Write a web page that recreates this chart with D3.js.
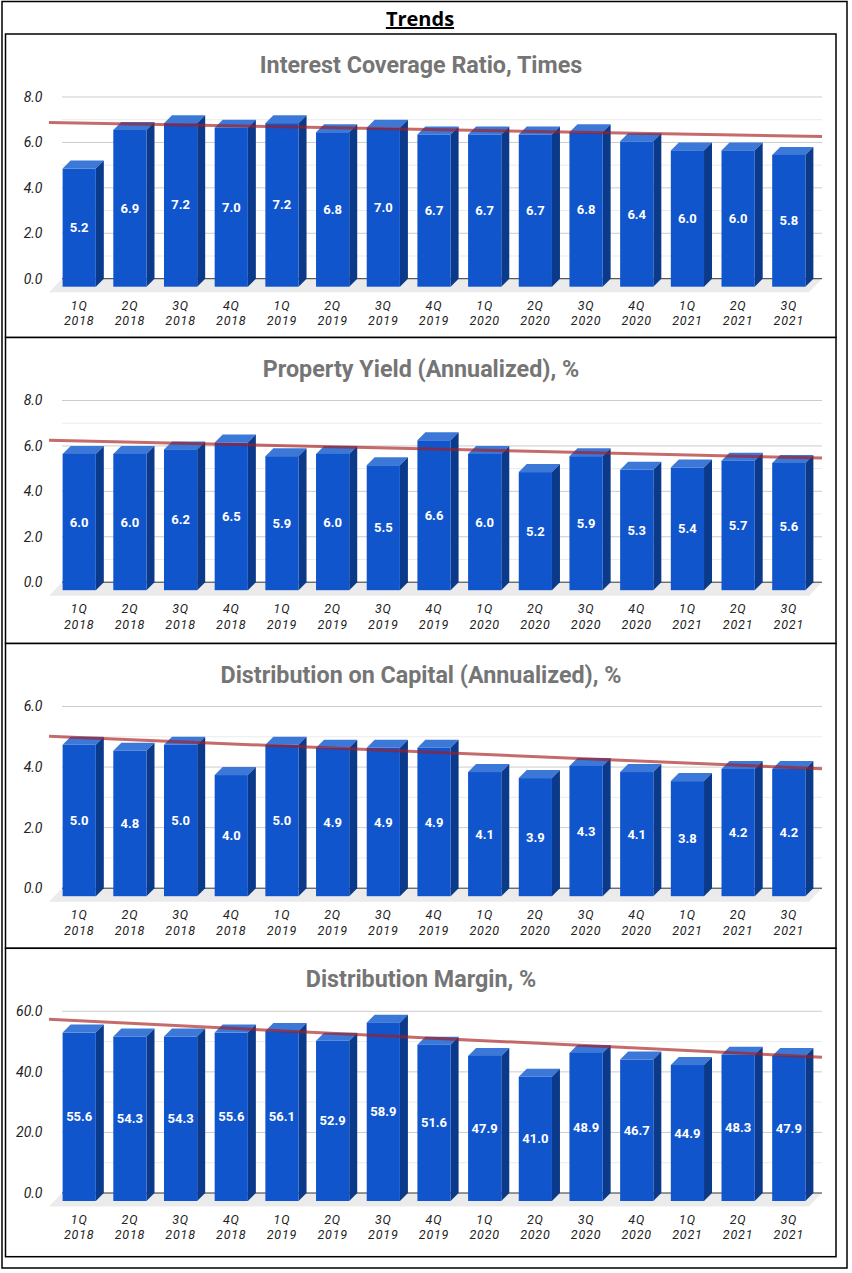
<!DOCTYPE html>
<html>
<head>
<meta charset="utf-8">
<script src="https://cdn.jsdelivr.net/npm/d3@7"></script>
<style>
  body { margin: 0; background: #fff; }
  svg { display: block; font-family: Roboto, "Noto Sans", sans-serif; }
</style>
</head>
<body>
<svg id="page" width="852" height="1273"></svg>
<script>
;(function() {
	"use strict";

	// quarters on the x axis, two lines each
	var quarters = ["1Q", "2Q", "3Q", "4Q", "1Q", "2Q", "3Q", "4Q", "1Q", "2Q", "3Q", "4Q", "1Q", "2Q", "3Q"],
		years = ["2018", "2018", "2018", "2018", "2019", "2019", "2019", "2019", "2020", "2020", "2020", "2020", "2021", "2021", "2021"];

	var interestCoverage = [5.2, 6.9, 7.2, 7.0, 7.2, 6.8, 7.0, 6.7, 6.7, 6.7, 6.8, 6.4, 6.0, 6.0, 5.8],
		propertyYield = [6.0, 6.0, 6.2, 6.5, 5.9, 6.0, 5.5, 6.6, 6.0, 5.2, 5.9, 5.3, 5.4, 5.7, 5.6],
		distributionOnCapital = [5.0, 4.8, 5.0, 4.0, 5.0, 4.9, 4.9, 4.9, 4.1, 3.9, 4.3, 4.1, 3.8, 4.2, 4.2],
		distributionMargin = [55.6, 54.3, 54.3, 55.6, 56.1, 52.9, 58.9, 51.6, 47.9, 41.0, 48.9, 46.7, 44.9, 48.3, 47.9];

	var titles = ["Interest Coverage Ratio, Times", "Property Yield (Annualized), %",
		"Distribution on Capital (Annualized), %", "Distribution Margin, %"];

	var ticks8 = [0, 2, 4, 6, 8],
		ticks6 = [0, 2, 4, 6],
		ticks60 = [0, 20, 40, 60];

	var charts = [
		{ title: titles[0], values: interestCoverage, ticks: ticks8 },
		{ title: titles[1], values: propertyYield, ticks: ticks8 },
		{ title: titles[2], values: distributionOnCapital, ticks: ticks6 },
		{ title: titles[3], values: distributionMargin, ticks: ticks60 }
	];

	var panelTops = [34, 337.5, 643.5, 948.3],
		panelBottom = 1256.7,
		panelLeft = 5.5,
		panelRight = 836,
		plotLeft = 62,
		plotRight = 822,
		depth = 8,       // bar depth offset
		floorDepth = 13; // floor depth offset

	var colors = {
		front: "#1155cc",
		top: "#3c78d8",
		side: "#0c3a8a",
		grid: "#cccccc",
		minor: "#ebebeb",
		floor: "#ebebeb",
		trend: "#a81c1c"
	};

	var svg = d3.select("#page");

	// outer frame + heading
	svg.append("rect")
		.attr("x", 2).attr("y", 1.5)
		.attr("width", 845).attr("height", 1266.5)
		.attr("fill", "none").attr("stroke", "#000").attr("stroke-width", 1.5);

	svg.append("text")
		.attr("x", 420).attr("y", 26)
		.attr("text-anchor", "middle")
		.attr("font-family", "'Open Sans', 'Noto Sans', sans-serif")
		.attr("font-weight", "bold")
		.attr("font-size", 20)
		.attr("text-decoration", "underline")
		.attr("fill", "#000")
		.text("Trends");

	charts.forEach(function(chart, ci) {
		var top = panelTops[ci],
			bottom = ci < charts.length - 1 ? panelTops[ci + 1] : panelBottom,
			g = svg.append("g");

		g.append("rect")
			.attr("x", panelLeft).attr("y", top)
			.attr("width", panelRight - panelLeft).attr("height", bottom - top)
			.attr("fill", "#fff").attr("stroke", "#000").attr("stroke-width", 1.5);

		g.append("text")
			.attr("x", 421).attr("y", top + 39)
			.attr("text-anchor", "middle")
			.attr("font-weight", "bold")
			.attr("font-size", 23.3)
			.attr("fill", "#757575")
			.text(chart.title);

		var maxTick = d3.max(chart.ticks),
			step = chart.ticks[1] - chart.ticks[0],
			y = d3.scaleLinear().domain([0, maxTick]).range([top + 244.7, top + 63]),
			x = d3.scaleBand().domain(d3.range(chart.values.length))
				.range([plotLeft, plotRight]).paddingInner(0.345).paddingOuter(0.17),
			y0 = y(0);

		// minor gridlines halfway between ticks
		var minor = chart.ticks.slice(0, -1).map(function(t) { return t + step / 2; });
		g.selectAll(".minor").data(minor).enter().append("line")
			.attr("x1", plotLeft).attr("x2", plotRight)
			.attr("y1", function(d) { return y(d); }).attr("y2", function(d) { return y(d); })
			.attr("stroke", colors.minor).attr("stroke-width", 1);

		g.selectAll(".major").data(chart.ticks.slice(1)).enter().append("line")
			.attr("x1", plotLeft).attr("x2", plotRight)
			.attr("y1", function(d) { return y(d); }).attr("y2", function(d) { return y(d); })
			.attr("stroke", colors.grid).attr("stroke-width", 1);

		// y tick labels
		g.selectAll(".ytick").data(chart.ticks).enter().append("text")
			.attr("x", 42.5).attr("y", function(d) { return y(d); })
			.attr("dy", "0.35em")
			.attr("text-anchor", "end")
			.attr("font-style", "italic")
			.attr("font-size", 14)
			.attr("fill", "#222")
			.text(function(d) { return d3.format(".1f")(d); });

		// floor
		g.append("path")
			.attr("d", "M" + plotLeft + "," + y0 + "L" + plotRight + "," + y0 +
				"L" + (plotRight - floorDepth) + "," + (y0 + floorDepth + 0.5) +
				"L" + (plotLeft - floorDepth) + "," + (y0 + floorDepth + 0.5) + "Z")
			.attr("fill", colors.floor);

		g.append("line")
			.attr("x1", plotLeft).attr("x2", plotRight)
			.attr("y1", y0).attr("y2", y0)
			.attr("stroke", "#333").attr("stroke-width", 1);

		// bars: back face sits on the grid plane, front face shifted down-left
		var bars = g.selectAll(".bar").data(chart.values).enter().append("g");

		bars.append("path") // top face
			.attr("d", function(d, i) {
				var bx = x(i), w = x.bandwidth(), by = y(d);
				return "M" + (bx - depth) + "," + (by + depth) + "L" + bx + "," + by +
					"L" + (bx + w) + "," + by + "L" + (bx + w - depth) + "," + (by + depth) + "Z";
			})
			.attr("fill", colors.top);

		bars.append("path") // side face
			.attr("d", function(d, i) {
				var bx = x(i) + x.bandwidth(), by = y(d);
				return "M" + (bx - depth) + "," + (by + depth) + "L" + bx + "," + by +
					"L" + bx + "," + y0 + "L" + (bx - depth) + "," + (y0 + depth) + "Z";
			})
			.attr("fill", colors.side);

		bars.append("rect") // front face
			.attr("x", function(d, i) { return x(i) - depth; })
			.attr("y", function(d) { return y(d) + depth; })
			.attr("width", x.bandwidth())
			.attr("height", function(d) { return y0 - y(d); })
			.attr("fill", colors.front);

		bars.append("text")
			.attr("x", function(d, i) { return x(i) - depth + x.bandwidth() / 2; })
			.attr("y", function(d) { return (y(d) + y0) / 2 + depth; })
			.attr("dy", "0.35em")
			.attr("text-anchor", "middle")
			.attr("font-weight", "bold")
			.attr("font-size", 13)
			.attr("fill", "#fff")
			.text(function(d) { return d3.format(".1f")(d); });

		// x labels
		var xl = g.selectAll(".xl").data(chart.values).enter().append("text")
			.attr("text-anchor", "middle")
			.attr("font-style", "italic")
			.attr("font-size", 12.5)
			.attr("letter-spacing", 0.8)
			.attr("fill", "#222");
		xl.append("tspan")
			.attr("x", function(d, i) { return x(i) - depth + x.bandwidth() / 2; })
			.attr("y", top + 275.5)
			.text(function(d, i) { return quarters[i]; });
		xl.append("tspan")
			.attr("x", function(d, i) { return x(i) - depth + x.bandwidth() / 2; })
			.attr("y", top + 291)
			.text(function(d, i) { return years[i]; });

		// linear trendline (least squares over bar index)
		var n = chart.values.length,
			mx = d3.mean(d3.range(n)),
			my = d3.mean(chart.values),
			slope = d3.sum(chart.values, function(v, i) { return (i - mx) * (v - my); }) /
				d3.sum(d3.range(n), function(i) { return (i - mx) * (i - mx); }),
			idx = d3.scaleLinear().domain([-0.5, n - 0.5]).range([plotLeft, plotRight]),
			i0 = idx.invert(plotLeft - floorDepth),
			i1 = n - 0.5;

		g.append("line")
			.attr("x1", idx(i0)).attr("x2", idx(i1))
			.attr("y1", y(my + slope * (i0 - mx)))
			.attr("y2", y(my + slope * (i1 - mx)))
			.attr("stroke", colors.trend)
			.attr("stroke-opacity", 0.65)
			.attr("stroke-width", 3);
	});
})();
</script>
</body>
</html>
